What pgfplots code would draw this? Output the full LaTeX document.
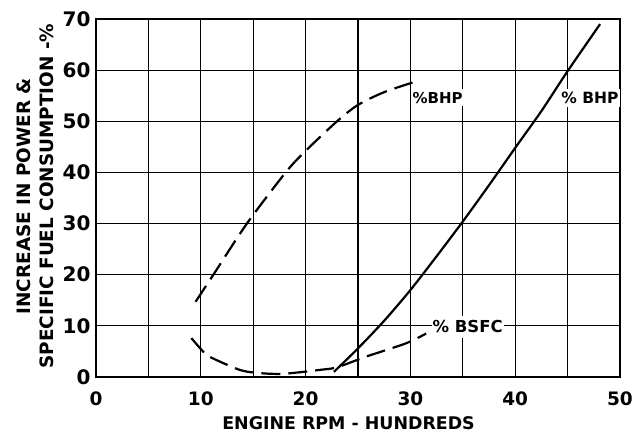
\documentclass[border=0pt]{standalone}
\usepackage{pgfplots}
\pgfplotsset{compat=1.18}
\usepackage{fontspec}
\setmainfont{DejaVu Sans}
\begin{document}
\begin{tikzpicture}
\begin{axis}[
  scale only axis, width=524pt, height=358pt,
  xmin=0, xmax=50, ymin=0, ymax=70,
  clip=false,
  xtick={0,10,...,50}, minor xtick={5,15,...,45},
  ytick={0,10,...,70},
  grid=both,
  major grid style={black, line width=1.2pt},
  minor grid style={black, line width=1.2pt},
  axis line style={line width=2.2pt},
  major tick length=0pt, minor tick length=0pt,
  /pgf/number format/assume math mode=true,
  xticklabel style={font=\bfseries\fontsize{18.5}{20}\selectfont, yshift=-11pt},
  yticklabel style={font=\bfseries\fontsize{20}{22}\selectfont, xshift=-2pt},
  xlabel={ENGINE RPM - HUNDREDS},
  xlabel style={at={(axis description cs:0.482,-0.128)}, anchor=center, font=\bfseries\fontsize{17.4}{20}\selectfont},
  ylabel={INCREASE IN POWER \&\\SPECIFIC FUEL CONSUMPTION -\%},
  ylabel style={at={(axis description cs:-0.1155,0.505)}, anchor=center, align=center, font=\bfseries\fontsize{18.4}{23}\selectfont},
]
% %BHP solid
\addplot[black, line width=2.2pt, smooth] coordinates {
 (22.7,1.0) (25,5.6) (27.5,11) (30,17) (32.5,23.6) (35,30.4) (37.5,37.5) (40,44.8) (42.5,52) (45,59.8) (48.1,69)
};
% %BHP dashed
\addplot[black, line width=2.2pt, smooth, dash pattern=on 19pt off 8pt] coordinates {
 (9.5,14.7) (11.2,20) (14.4,30) (18.1,40) (20,44.2) (23,50) (25,53.2) (27.5,55.7) (30.4,57.7)
};
% %BSFC dashed
\addplot[black, line width=2.2pt, smooth, dash pattern=on 19pt off 8pt] coordinates {
 (9.1,7.6) (10.4,4.6) (11.2,3.6) (13.3,1.7) (14.4,1.05) (16,0.7) (17.6,0.6) (19.1,0.85) (21.4,1.4) (23,1.9) (25.8,4.0) (29.6,6.6) (31.5,8.5)
};
\node[fill=white, inner xsep=1pt, inner ysep=3pt, anchor=west, font=\bfseries\fontsize{15}{18}\selectfont] at (axis cs:30.1,54.6) {\%BHP};
\node[fill=white, inner xsep=1pt, inner ysep=3pt, anchor=west, font=\bfseries\fontsize{15.5}{18}\selectfont] at (axis cs:44.3,54.6) {\% BHP};
\node[fill=white, inner xsep=1pt, inner ysep=5pt, anchor=west, font=\bfseries\fontsize{16.5}{18}\selectfont] at (axis cs:32.0,9.8) {\% BSFC};
\coordinate (bbl) at (rel axis cs:-0.1832,-0.1592);
\coordinate (btr) at (rel axis cs:1.0363,1.0531);
\end{axis}
\pgfresetboundingbox
\path[use as bounding box] (bbl) rectangle (btr);
\end{tikzpicture}
\end{document}
